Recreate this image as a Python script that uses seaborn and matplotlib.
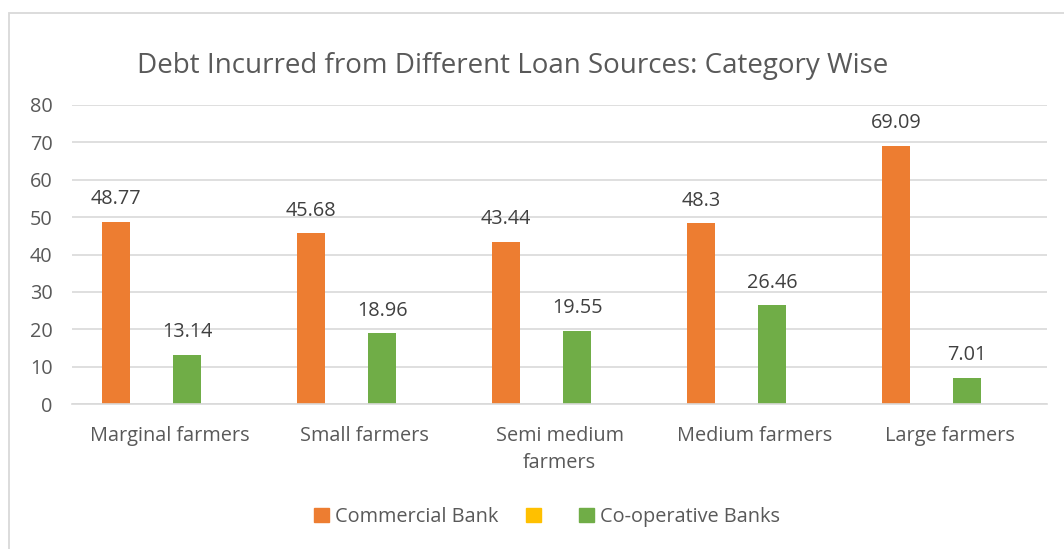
import matplotlib
matplotlib.use("Agg")
import matplotlib.pyplot as plt
import matplotlib.patches as mpatches
import seaborn as sns
import pandas as pd
import numpy as np

categories = ["Marginal farmers", "Small farmers", "Semi medium\nfarmers", "Medium farmers", "Large farmers"]
series_names = ["Commercial Bank", " ", "Co-operative Banks", "  "]
commercial_bank = [48.77, 45.68, 43.44, 48.3, 69.09]
blank_series = [np.nan] * 5
cooperative_banks = [13.14, 18.96, 19.55, 26.46, 7.01]
hidden_series = [np.nan] * 5
colors = ["#ED7D31", "#FFC000", "#70AD47", "#A5A5A5"]
yticks = [0, 10, 20, 30, 40, 50, 60, 70, 80]

rows = []
for name, vals in zip(series_names, [commercial_bank, blank_series, cooperative_banks, hidden_series]):
    for c, v in zip(categories, vals):
        rows.append({"category": c, "source": name, "value": v})
df = pd.DataFrame(rows)

sns.set_theme(style="white")
plt.rcParams['font.family'] = ['Open Sans', 'DejaVu Sans']
text_color = "#595959"
fs = 14.3

W, H = 1064, 549
fig = plt.figure(figsize=(W / 100, H / 100), dpi=100)
ax = fig.add_axes([72 / W, 1 - 404 / H, (1047 - 72) / W, (404 - 105) / H])

sns.barplot(data=df, x="category", y="value", hue="source", hue_order=series_names,
            order=categories, palette=colors, width=0.728, gap=0.21, ax=ax,
            errorbar=None, linewidth=0, legend=False, saturation=1)

for cont in ax.containers:
    vals = [b.get_height() for b in cont]
    labs = ["" if (v is None or np.isnan(v)) else f"{v:g}" for v in vals]
    ax.bar_label(cont, labels=labs, padding=9, fontsize=fs, color="#404040")

ax.set_ylim(0, 80)
ax.set_yticks(yticks)
ax.set_yticklabels([str(t) for t in yticks], fontsize=fs, color=text_color)
ax.tick_params(axis="x", labelsize=fs, colors=text_color, length=0, pad=16)
ax.tick_params(axis="y", length=0, pad=14)
for lab in ax.get_xticklabels():
    lab.set_linespacing(1.45)
ax.set_xlabel("")
ax.set_ylabel("")
ax.grid(axis="y", color="#D9D9D9", linewidth=1.2)
ax.set_axisbelow(True)
for s in ["top", "right", "left"]:
    ax.spines[s].set_visible(False)
ax.spines["bottom"].set_color("#D9D9D9")
ax.spines["bottom"].set_linewidth(1.2)
ax.set_xlim(-0.5, 4.5)

fig.text(513 / W, 1 - 66 / H, "Debt Incurred from Different Loan Sources: Category Wise",
         ha="center", va="center", fontsize=20, color=text_color)

handles = [mpatches.Patch(color=colors[0], label="Commercial Bank"),
           mpatches.Patch(color=colors[1], label=" "),
           mpatches.Patch(color=colors[2], label="Co-operative Banks")]
fig.legend(handles=handles, loc="center", bbox_to_anchor=(547 / W, 1 - 517 / H), ncol=3,
           frameon=False, fontsize=fs, labelcolor=text_color, handlelength=0.75,
           handleheight=0.75, handletextpad=0.3, columnspacing=1.4)

border = mpatches.Rectangle((8.5 / W, -0.05), 1.1, 1 - 13 / H + 0.05, transform=fig.transFigure,
                            fill=False, edgecolor="#D9D9D9", linewidth=1.3)
fig.patches.append(border)

fig.savefig("out.png", dpi=100)
